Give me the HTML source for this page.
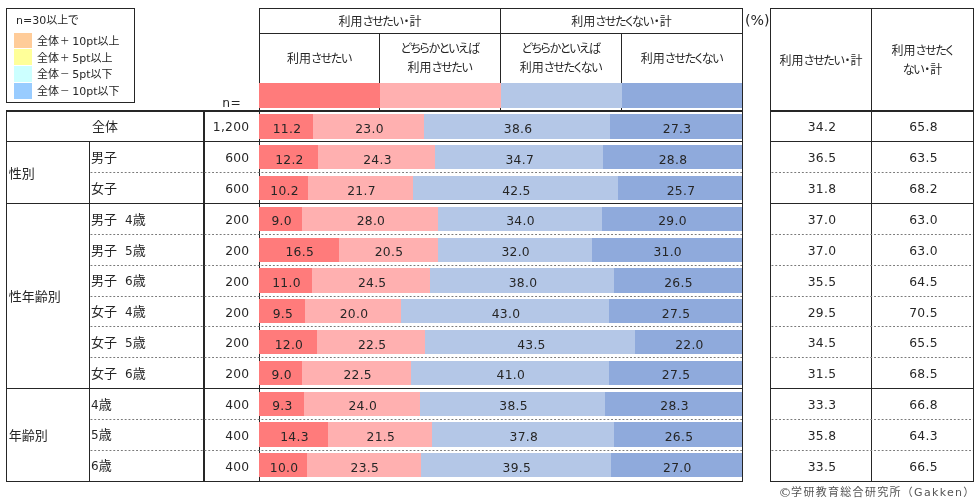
<!DOCTYPE html>
<html lang="ja"><head><meta charset="utf-8"><title>chart</title>
<style>
html,body{margin:0;padding:0;background:#fff;}
body{width:980px;height:504px;position:relative;overflow:hidden;font-family:"DejaVu Sans","Liberation Sans","Noto Sans CJK JP",sans-serif;color:#262626;}
.a{position:absolute;white-space:nowrap;}
.j{font-family:"Liberation Sans","Noto Sans CJK JP",sans-serif;}
.ln{position:absolute;background:#262626;}
.dh{position:absolute;height:1px;background:repeating-linear-gradient(90deg,#767676 0 1.9px,transparent 1.9px 3.8px);}
.k{font-feature-settings:'palt';letter-spacing:-1.3px;margin-right:1px;}
.pm{display:inline-block;width:13.5px;font-size:9.5px;text-align:center;margin-left:-1px;margin-right:0.8px;vertical-align:top;}
.num{font-size:12.3px;letter-spacing:0.3px;}
.lab{font-size:13px;}
.hd{font-size:12px;text-align:center;}
.lg{font-size:11px;}
.bar{position:absolute;}
.dot{font-weight:900;}
.d{font-family:"DejaVu Sans",sans-serif;}
.lab .d{font-size:12px;}
.sp{display:inline-block;width:8px;}
</style></head><body>

<div class="a" style="left:6px;top:8px;width:127px;height:93px;border:1px solid #262626;"></div>
<div class="a j lg" style="left:16px;top:12px;line-height:16px;"><span class="d">n=30</span>以上<span class="k">で</span></div>
<div class="a" style="left:14px;top:33px;width:18px;height:14.6px;background:#FFCC99;"></div>
<div class="a j lg" style="left:37px;top:33.0px;line-height:16px;">全体<span class="pm">＋</span><span class="d">10pt</span>以上</div>
<div class="a" style="left:14px;top:49px;width:18px;height:15.6px;background:#FFFF99;"></div>
<div class="a j lg" style="left:37px;top:49.5px;line-height:16px;">全体<span class="pm">＋</span><span class="d">5pt</span>以上</div>
<div class="a" style="left:14px;top:65.7px;width:18px;height:16px;background:#CCFFFF;"></div>
<div class="a j lg" style="left:37px;top:66.0px;line-height:16px;">全体<span class="pm">－</span><span class="d">5pt</span>以下</div>
<div class="a" style="left:14px;top:82.9px;width:18px;height:15.7px;background:#99CCFF;"></div>
<div class="a j lg" style="left:37px;top:82.5px;line-height:16px;">全体<span class="pm">－</span><span class="d">10pt</span>以下</div>
<div class="a num" style="left:204px;top:92.7px;width:45px;text-align:right;padding-right:8px;box-sizing:border-box;line-height:20px;">n=</div>
<div class="ln" style="left:259px;top:8px;width:484px;height:1px;"></div>
<div class="ln" style="left:259px;top:33px;width:484px;height:1px;"></div>
<div class="ln" style="left:259px;top:8px;width:1px;height:474px;"></div>
<div class="ln" style="left:742px;top:8px;width:1px;height:474px;"></div>
<div class="ln" style="left:500px;top:8px;width:1px;height:103px;"></div>
<div class="ln" style="left:379px;top:33px;width:1px;height:78px;"></div>
<div class="ln" style="left:621px;top:33px;width:1px;height:78px;"></div>
<div class="bar" style="left:259px;top:83px;width:120.5px;height:25px;background:#FF7B7B;"></div>
<div class="bar" style="left:379.5px;top:83px;width:121.0px;height:25px;background:#FFB0B0;"></div>
<div class="bar" style="left:500.5px;top:83px;width:121.0px;height:25px;background:#B4C7E7;"></div>
<div class="bar" style="left:621.5px;top:83px;width:120.5px;height:25px;background:#8FAADC;"></div>
<div class="a j hd" style="left:260px;top:10px;width:240px;line-height:24px;">利用<span class="k">させたい</span><b class="dot">･</b>計</div>
<div class="a j hd" style="left:501px;top:10px;width:241px;line-height:24px;">利用<span class="k">させたくない</span><b class="dot">･</b>計</div>
<div class="a j hd" style="left:260px;top:34.7px;width:119px;line-height:49px;">利用<span class="k">させたい</span></div>
<div class="a j hd" style="left:380px;top:40px;width:120px;line-height:19px;"><span class="k">どちらかといえば</span><br>利用<span class="k">させたい</span></div>
<div class="a j hd" style="left:501px;top:40px;width:120px;line-height:19px;"><span class="k">どちらかといえば</span><br>利用<span class="k">させたくない</span></div>
<div class="a j hd" style="left:622px;top:34.7px;width:120px;line-height:49px;">利用<span class="k">させたくない</span></div>
<div class="a d" style="left:745px;top:9.5px;line-height:20px;font-size:14.2px;">(%)</div>
<div class="ln" style="left:770px;top:8px;width:204px;height:1px;"></div>
<div class="ln" style="left:770px;top:8px;width:1px;height:474px;"></div>
<div class="ln" style="left:871px;top:8px;width:1px;height:474px;"></div>
<div class="ln" style="left:973px;top:8px;width:1px;height:474px;"></div>
<div class="a j hd" style="left:771px;top:10px;width:100px;line-height:102px;">利用<span class="k">させたい</span><b class="dot">･</b>計</div>
<div class="a j hd" style="left:872px;top:42px;width:101px;line-height:19px;">利用<span class="k">させたく</span><br><span class="k">ない</span><b class="dot">･</b>計</div>
<div class="ln" style="left:6px;top:110px;width:737px;height:2px;"></div>
<div class="ln" style="left:770px;top:110px;width:204px;height:2px;"></div>
<div class="ln" style="left:6px;top:110px;width:1px;height:372px;"></div>
<div class="ln" style="left:89px;top:141px;width:1px;height:341px;"></div>
<div class="ln" style="left:203px;top:110px;width:2px;height:372px;"></div>
<div class="ln" style="left:6px;top:141px;width:737px;height:1px;"></div>
<div class="ln" style="left:770px;top:141px;width:204px;height:1px;"></div>
<div class="ln" style="left:6px;top:203px;width:737px;height:1px;"></div>
<div class="ln" style="left:770px;top:203px;width:204px;height:1px;"></div>
<div class="ln" style="left:6px;top:388px;width:737px;height:1px;"></div>
<div class="ln" style="left:770px;top:388px;width:204px;height:1px;"></div>
<div class="ln" style="left:6px;top:481px;width:737px;height:1px;"></div>
<div class="ln" style="left:770px;top:481px;width:204px;height:1px;"></div>
<svg class="a" style="left:0;top:0" width="980" height="504" viewBox="0 0 980 504" fill="none" stroke="#7a7a7a" stroke-width="1" stroke-dasharray="1.9 1.9"><path d="M90.5 172.5H742"/><path d="M771.5 172.5H973"/><path d="M90.5 234.5H742"/><path d="M771.5 234.5H973"/><path d="M90.5 265.5H742"/><path d="M771.5 265.5H973"/><path d="M90.5 296.5H742"/><path d="M771.5 296.5H973"/><path d="M90.5 326.5H742"/><path d="M771.5 326.5H973"/><path d="M90.5 357.5H742"/><path d="M771.5 357.5H973"/><path d="M90.5 419.5H742"/><path d="M771.5 419.5H973"/><path d="M90.5 450.5H742"/><path d="M771.5 450.5H973"/></svg>
<div class="bar" style="left:259.0px;top:114.3px;width:482.98px;height:24.3px;overflow:hidden;background:#FF7B7B;">
<div class="bar" style="left:54.04px;top:0;right:0;height:25px;background:#FFB0B0;"></div>
<div class="bar" style="left:165.02px;top:0;right:0;height:25px;background:#B4C7E7;"></div>
<div class="bar" style="left:351.26px;top:0;right:0;height:25px;background:#8FAADC;"></div>
</div>
<div class="a num" style="left:260.0px;top:114px;width:54.0px;text-align:center;line-height:30px;">11.2</div>
<div class="a num" style="left:314.0px;top:114px;width:111.0px;text-align:center;line-height:30px;">23.0</div>
<div class="a num" style="left:425.0px;top:114px;width:186.2px;text-align:center;line-height:30px;">38.6</div>
<div class="a num" style="left:611.3px;top:114px;width:131.7px;text-align:center;line-height:30px;">27.3</div>
<div class="a j lab" style="left:7px;top:115px;width:196px;text-align:center;line-height:24px;">全体</div>
<div class="a num" style="left:205px;top:115px;width:44.5px;text-align:right;line-height:24px;">1,200</div>
<div class="a num" style="left:772px;top:115px;width:100px;text-align:center;line-height:24px;">34.2</div>
<div class="a num" style="left:873px;top:115px;width:101px;text-align:center;line-height:24px;">65.8</div>
<div class="bar" style="left:259.0px;top:145.1px;width:482.50px;height:24.3px;overflow:hidden;background:#FF7B7B;">
<div class="bar" style="left:58.87px;top:0;right:0;height:25px;background:#FFB0B0;"></div>
<div class="bar" style="left:176.11px;top:0;right:0;height:25px;background:#B4C7E7;"></div>
<div class="bar" style="left:343.54px;top:0;right:0;height:25px;background:#8FAADC;"></div>
</div>
<div class="a num" style="left:260.0px;top:145px;width:58.9px;text-align:center;line-height:30px;">12.2</div>
<div class="a num" style="left:318.9px;top:145px;width:117.2px;text-align:center;line-height:30px;">24.3</div>
<div class="a num" style="left:436.1px;top:145px;width:167.4px;text-align:center;line-height:30px;">34.7</div>
<div class="a num" style="left:603.5px;top:145px;width:139.0px;text-align:center;line-height:30px;">28.8</div>
<div class="a j lab" style="left:91px;top:146px;line-height:24px;">男子</div>
<div class="a num" style="left:205px;top:146px;width:44.5px;text-align:right;line-height:24px;">600</div>
<div class="a num" style="left:772px;top:146px;width:100px;text-align:center;line-height:24px;">36.5</div>
<div class="a num" style="left:873px;top:146px;width:101px;text-align:center;line-height:24px;">63.5</div>
<div class="bar" style="left:259.0px;top:175.9px;width:482.98px;height:24.3px;overflow:hidden;background:#FF7B7B;">
<div class="bar" style="left:49.21px;top:0;right:0;height:25px;background:#FFB0B0;"></div>
<div class="bar" style="left:153.92px;top:0;right:0;height:25px;background:#B4C7E7;"></div>
<div class="bar" style="left:358.98px;top:0;right:0;height:25px;background:#8FAADC;"></div>
</div>
<div class="a num" style="left:260.0px;top:176px;width:49.2px;text-align:center;line-height:30px;">10.2</div>
<div class="a num" style="left:309.2px;top:176px;width:104.7px;text-align:center;line-height:30px;">21.7</div>
<div class="a num" style="left:413.9px;top:176px;width:205.1px;text-align:center;line-height:30px;">42.5</div>
<div class="a num" style="left:619.0px;top:176px;width:124.0px;text-align:center;line-height:30px;">25.7</div>
<div class="a j lab" style="left:91px;top:177px;line-height:24px;">女子</div>
<div class="a num" style="left:205px;top:177px;width:44.5px;text-align:right;line-height:24px;">600</div>
<div class="a num" style="left:772px;top:177px;width:100px;text-align:center;line-height:24px;">31.8</div>
<div class="a num" style="left:873px;top:177px;width:101px;text-align:center;line-height:24px;">68.2</div>
<div class="bar" style="left:259.0px;top:206.7px;width:482.50px;height:24.3px;overflow:hidden;background:#FF7B7B;">
<div class="bar" style="left:43.43px;top:0;right:0;height:25px;background:#FFB0B0;"></div>
<div class="bar" style="left:178.53px;top:0;right:0;height:25px;background:#B4C7E7;"></div>
<div class="bar" style="left:342.57px;top:0;right:0;height:25px;background:#8FAADC;"></div>
</div>
<div class="a num" style="left:260.0px;top:206px;width:43.4px;text-align:center;line-height:30px;">9.0</div>
<div class="a num" style="left:303.4px;top:206px;width:135.1px;text-align:center;line-height:30px;">28.0</div>
<div class="a num" style="left:438.5px;top:206px;width:164.1px;text-align:center;line-height:30px;">34.0</div>
<div class="a num" style="left:602.6px;top:206px;width:139.9px;text-align:center;line-height:30px;">29.0</div>
<div class="a j lab" style="left:91px;top:208px;line-height:24px;">男子<span class="sp"></span><span class="d">4</span>歳</div>
<div class="a num" style="left:205px;top:208px;width:44.5px;text-align:right;line-height:24px;">200</div>
<div class="a num" style="left:772px;top:208px;width:100px;text-align:center;line-height:24px;">37.0</div>
<div class="a num" style="left:873px;top:208px;width:101px;text-align:center;line-height:24px;">63.0</div>
<div class="bar" style="left:259.0px;top:237.5px;width:482.50px;height:24.3px;overflow:hidden;background:#FF7B7B;">
<div class="bar" style="left:79.61px;top:0;right:0;height:25px;background:#FFB0B0;"></div>
<div class="bar" style="left:178.53px;top:0;right:0;height:25px;background:#B4C7E7;"></div>
<div class="bar" style="left:332.93px;top:0;right:0;height:25px;background:#8FAADC;"></div>
</div>
<div class="a num" style="left:260.0px;top:237px;width:79.6px;text-align:center;line-height:30px;">16.5</div>
<div class="a num" style="left:339.6px;top:237px;width:98.9px;text-align:center;line-height:30px;">20.5</div>
<div class="a num" style="left:438.5px;top:237px;width:154.4px;text-align:center;line-height:30px;">32.0</div>
<div class="a num" style="left:592.9px;top:237px;width:149.6px;text-align:center;line-height:30px;">31.0</div>
<div class="a j lab" style="left:91px;top:239px;line-height:24px;">男子<span class="sp"></span><span class="d">5</span>歳</div>
<div class="a num" style="left:205px;top:239px;width:44.5px;text-align:right;line-height:24px;">200</div>
<div class="a num" style="left:772px;top:239px;width:100px;text-align:center;line-height:24px;">37.0</div>
<div class="a num" style="left:873px;top:239px;width:101px;text-align:center;line-height:24px;">63.0</div>
<div class="bar" style="left:259.0px;top:268.3px;width:482.50px;height:24.3px;overflow:hidden;background:#FF7B7B;">
<div class="bar" style="left:53.08px;top:0;right:0;height:25px;background:#FFB0B0;"></div>
<div class="bar" style="left:171.29px;top:0;right:0;height:25px;background:#B4C7E7;"></div>
<div class="bar" style="left:354.64px;top:0;right:0;height:25px;background:#8FAADC;"></div>
</div>
<div class="a num" style="left:260.0px;top:268px;width:53.1px;text-align:center;line-height:30px;">11.0</div>
<div class="a num" style="left:313.1px;top:268px;width:118.2px;text-align:center;line-height:30px;">24.5</div>
<div class="a num" style="left:431.3px;top:268px;width:183.4px;text-align:center;line-height:30px;">38.0</div>
<div class="a num" style="left:614.6px;top:268px;width:127.9px;text-align:center;line-height:30px;">26.5</div>
<div class="a j lab" style="left:91px;top:269px;line-height:24px;">男子<span class="sp"></span><span class="d">6</span>歳</div>
<div class="a num" style="left:205px;top:270px;width:44.5px;text-align:right;line-height:24px;">200</div>
<div class="a num" style="left:772px;top:270px;width:100px;text-align:center;line-height:24px;">35.5</div>
<div class="a num" style="left:873px;top:270px;width:101px;text-align:center;line-height:24px;">64.5</div>
<div class="bar" style="left:259.0px;top:299.1px;width:482.50px;height:24.3px;overflow:hidden;background:#FF7B7B;">
<div class="bar" style="left:45.84px;top:0;right:0;height:25px;background:#FFB0B0;"></div>
<div class="bar" style="left:142.34px;top:0;right:0;height:25px;background:#B4C7E7;"></div>
<div class="bar" style="left:349.81px;top:0;right:0;height:25px;background:#8FAADC;"></div>
</div>
<div class="a num" style="left:260.0px;top:299px;width:45.8px;text-align:center;line-height:30px;">9.5</div>
<div class="a num" style="left:305.8px;top:299px;width:96.5px;text-align:center;line-height:30px;">20.0</div>
<div class="a num" style="left:402.3px;top:299px;width:207.5px;text-align:center;line-height:30px;">43.0</div>
<div class="a num" style="left:609.8px;top:299px;width:132.7px;text-align:center;line-height:30px;">27.5</div>
<div class="a j lab" style="left:91px;top:300px;line-height:24px;">女子<span class="sp"></span><span class="d">4</span>歳</div>
<div class="a num" style="left:205px;top:301px;width:44.5px;text-align:right;line-height:24px;">200</div>
<div class="a num" style="left:772px;top:301px;width:100px;text-align:center;line-height:24px;">29.5</div>
<div class="a num" style="left:873px;top:301px;width:101px;text-align:center;line-height:24px;">70.5</div>
<div class="bar" style="left:259.0px;top:329.9px;width:482.50px;height:24.3px;overflow:hidden;background:#FF7B7B;">
<div class="bar" style="left:57.90px;top:0;right:0;height:25px;background:#FFB0B0;"></div>
<div class="bar" style="left:166.46px;top:0;right:0;height:25px;background:#B4C7E7;"></div>
<div class="bar" style="left:376.35px;top:0;right:0;height:25px;background:#8FAADC;"></div>
</div>
<div class="a num" style="left:260.0px;top:330px;width:57.9px;text-align:center;line-height:30px;">12.0</div>
<div class="a num" style="left:317.9px;top:330px;width:108.6px;text-align:center;line-height:30px;">22.5</div>
<div class="a num" style="left:426.5px;top:330px;width:209.9px;text-align:center;line-height:30px;">43.5</div>
<div class="a num" style="left:636.4px;top:330px;width:106.1px;text-align:center;line-height:30px;">22.0</div>
<div class="a j lab" style="left:91px;top:331px;line-height:24px;">女子<span class="sp"></span><span class="d">5</span>歳</div>
<div class="a num" style="left:205px;top:331px;width:44.5px;text-align:right;line-height:24px;">200</div>
<div class="a num" style="left:772px;top:331px;width:100px;text-align:center;line-height:24px;">34.5</div>
<div class="a num" style="left:873px;top:331px;width:101px;text-align:center;line-height:24px;">65.5</div>
<div class="bar" style="left:259.0px;top:360.7px;width:482.50px;height:24.3px;overflow:hidden;background:#FF7B7B;">
<div class="bar" style="left:43.43px;top:0;right:0;height:25px;background:#FFB0B0;"></div>
<div class="bar" style="left:151.99px;top:0;right:0;height:25px;background:#B4C7E7;"></div>
<div class="bar" style="left:349.81px;top:0;right:0;height:25px;background:#8FAADC;"></div>
</div>
<div class="a num" style="left:260.0px;top:360px;width:43.4px;text-align:center;line-height:30px;">9.0</div>
<div class="a num" style="left:303.4px;top:360px;width:108.6px;text-align:center;line-height:30px;">22.5</div>
<div class="a num" style="left:412.0px;top:360px;width:197.8px;text-align:center;line-height:30px;">41.0</div>
<div class="a num" style="left:609.8px;top:360px;width:132.7px;text-align:center;line-height:30px;">27.5</div>
<div class="a j lab" style="left:91px;top:362px;line-height:24px;">女子<span class="sp"></span><span class="d">6</span>歳</div>
<div class="a num" style="left:205px;top:362px;width:44.5px;text-align:right;line-height:24px;">200</div>
<div class="a num" style="left:772px;top:362px;width:100px;text-align:center;line-height:24px;">31.5</div>
<div class="a num" style="left:873px;top:362px;width:101px;text-align:center;line-height:24px;">68.5</div>
<div class="bar" style="left:259.0px;top:391.5px;width:482.98px;height:24.3px;overflow:hidden;background:#FF7B7B;">
<div class="bar" style="left:44.87px;top:0;right:0;height:25px;background:#FFB0B0;"></div>
<div class="bar" style="left:160.67px;top:0;right:0;height:25px;background:#B4C7E7;"></div>
<div class="bar" style="left:346.44px;top:0;right:0;height:25px;background:#8FAADC;"></div>
</div>
<div class="a num" style="left:260.0px;top:391px;width:44.9px;text-align:center;line-height:30px;">9.3</div>
<div class="a num" style="left:304.9px;top:391px;width:115.8px;text-align:center;line-height:30px;">24.0</div>
<div class="a num" style="left:420.7px;top:391px;width:185.8px;text-align:center;line-height:30px;">38.5</div>
<div class="a num" style="left:606.4px;top:391px;width:136.5px;text-align:center;line-height:30px;">28.3</div>
<div class="a j lab" style="left:91px;top:393px;line-height:24px;"><span class="d">4</span>歳</div>
<div class="a num" style="left:205px;top:393px;width:44.5px;text-align:right;line-height:24px;">400</div>
<div class="a num" style="left:772px;top:393px;width:100px;text-align:center;line-height:24px;">33.3</div>
<div class="a num" style="left:873px;top:393px;width:101px;text-align:center;line-height:24px;">66.8</div>
<div class="bar" style="left:259.0px;top:422.3px;width:482.98px;height:24.3px;overflow:hidden;background:#FF7B7B;">
<div class="bar" style="left:69.00px;top:0;right:0;height:25px;background:#FFB0B0;"></div>
<div class="bar" style="left:172.73px;top:0;right:0;height:25px;background:#B4C7E7;"></div>
<div class="bar" style="left:355.12px;top:0;right:0;height:25px;background:#8FAADC;"></div>
</div>
<div class="a num" style="left:260.0px;top:422px;width:69.0px;text-align:center;line-height:30px;">14.3</div>
<div class="a num" style="left:329.0px;top:422px;width:103.7px;text-align:center;line-height:30px;">21.5</div>
<div class="a num" style="left:432.7px;top:422px;width:182.4px;text-align:center;line-height:30px;">37.8</div>
<div class="a num" style="left:615.1px;top:422px;width:127.9px;text-align:center;line-height:30px;">26.5</div>
<div class="a j lab" style="left:91px;top:423px;line-height:24px;"><span class="d">5</span>歳</div>
<div class="a num" style="left:205px;top:424px;width:44.5px;text-align:right;line-height:24px;">400</div>
<div class="a num" style="left:772px;top:424px;width:100px;text-align:center;line-height:24px;">35.8</div>
<div class="a num" style="left:873px;top:424px;width:101px;text-align:center;line-height:24px;">64.3</div>
<div class="bar" style="left:259.0px;top:453.1px;width:482.50px;height:24.3px;overflow:hidden;background:#FF7B7B;">
<div class="bar" style="left:48.25px;top:0;right:0;height:25px;background:#FFB0B0;"></div>
<div class="bar" style="left:161.64px;top:0;right:0;height:25px;background:#B4C7E7;"></div>
<div class="bar" style="left:352.23px;top:0;right:0;height:25px;background:#8FAADC;"></div>
</div>
<div class="a num" style="left:260.0px;top:453px;width:48.2px;text-align:center;line-height:30px;">10.0</div>
<div class="a num" style="left:308.2px;top:453px;width:113.4px;text-align:center;line-height:30px;">23.5</div>
<div class="a num" style="left:421.6px;top:453px;width:190.6px;text-align:center;line-height:30px;">39.5</div>
<div class="a num" style="left:612.2px;top:453px;width:130.3px;text-align:center;line-height:30px;">27.0</div>
<div class="a j lab" style="left:91px;top:454px;line-height:24px;"><span class="d">6</span>歳</div>
<div class="a num" style="left:205px;top:455px;width:44.5px;text-align:right;line-height:24px;">400</div>
<div class="a num" style="left:772px;top:455px;width:100px;text-align:center;line-height:24px;">33.5</div>
<div class="a num" style="left:873px;top:455px;width:101px;text-align:center;line-height:24px;">66.5</div>
<div class="a j lab" style="left:8.7px;top:162px;line-height:24px;">性別</div>
<div class="a j lab" style="left:8.7px;top:285px;line-height:24px;">性年齢別</div>
<div class="a j lab" style="left:8.7px;top:424px;line-height:24px;">年齢別</div>
<div class="a j" style="left:779.5px;top:483.3px;font-size:11px;letter-spacing:1.3px;line-height:18px;color:#555;"><span class="d" style="font-size:13px;letter-spacing:-0.4px;margin-left:-1px;vertical-align:-0.5px">©</span>学研教育総合研究所（<span class="d">Gakken</span>）</div>
</body></html>
